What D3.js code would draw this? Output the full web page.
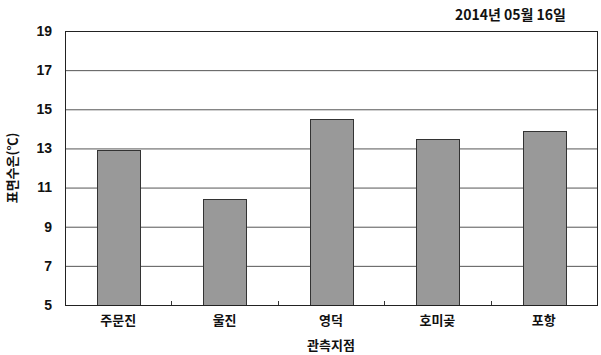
<!DOCTYPE html>
<html>
<head>
<meta charset="utf-8">
<script src="https://cdn.jsdelivr.net/npm/d3@7"></script>
<style>
body { margin: 0; background: #fff; }
text { font-family: "Noto Sans CJK KR", "Liberation Sans", sans-serif; font-weight: bold; fill: #111; }
</style>
</head>
<body>
<div id="chart"></div>
<script>
const stations = ["주문진", "울진", "영덕", "호미곶", "포항"];
const temps = [12.9, 10.4, 14.5, 13.5, 13.9];
const yTicks = [5, 7, 9, 11, 13, 15, 17, 19];

const width = 601, height = 355;
const margin = { top: 31, right: 4, bottom: 50, left: 65 };

const svg = d3.select("#chart")
    .append("svg")
    .attr("width", width)
    .attr("height", height);

const x = d3.scaleBand()
    .domain(stations)
    .range([margin.left, width - margin.right])
    .paddingInner(0.6)
    .paddingOuter(0.3);

const y = d3.scaleLinear()
    .domain([5, 19])
    .range([height - margin.bottom, margin.top]);

// gridlines
svg.append("g")
    .selectAll("line")
    .data(yTicks)
    .enter()
    .append("line")
    .attr("x1", margin.left)
    .attr("x2", width - margin.right)
    .attr("y1", d => y(d) + 0.5)
    .attr("y2", d => y(d) + 0.5)
    .attr("stroke", "#555")
    .attr("stroke-width", 1);

// bars
svg.append("g")
    .selectAll("rect")
    .data(stations)
    .enter()
    .append("rect")
    .attr("x", d => Math.round(x(d)) + 0.5)
    .attr("y", (d, i) => Math.round(y(temps[i])) + 0.5)
    .attr("width", Math.round(x.bandwidth()))
    .attr("height", (d, i) => Math.round(y(5)) - Math.round(y(temps[i])))
    .attr("fill", "#999999")
    .attr("stroke", "#333")
    .attr("stroke-width", 1);

// plot frame
svg.append("rect")
    .attr("x", margin.left + 0.5)
    .attr("y", margin.top + 0.5)
    .attr("width", width - margin.right - margin.left)
    .attr("height", height - margin.bottom - margin.top)
    .attr("fill", "none")
    .attr("stroke", "#222");

// category boundary ticks on x axis
const bounds = d3.range(1, stations.length).map(i => margin.left + i * (width - margin.right - margin.left) / stations.length);
svg.append("g")
    .selectAll("line")
    .data(bounds)
    .enter()
    .append("line")
    .attr("x1", d => Math.round(d) + 0.5)
    .attr("x2", d => Math.round(d) + 0.5)
    .attr("y1", y(5))
    .attr("y2", y(5) - 4)
    .attr("stroke", "#333");

// y axis labels
svg.append("g")
    .selectAll("text")
    .data(yTicks)
    .enter()
    .append("text")
    .attr("x", 52)
    .attr("y", d => y(d))
    .attr("dy", "0.35em")
    .attr("text-anchor", "end")
    .style("font-size", "14px")
    .style("font-family", "'Liberation Sans', sans-serif")
    .text(d => d);

// x axis labels
svg.append("g")
    .selectAll("text")
    .data(stations)
    .enter()
    .append("text")
    .attr("x", d => x(d) + x.bandwidth() / 2)
    .attr("y", 325)
    .attr("text-anchor", "middle")
    .style("font-size", "13px")
    .text(d => d);

svg.append("text")
    .attr("x", (margin.left + width - margin.right) / 2)
    .attr("y", 350)
    .attr("text-anchor", "middle")
    .style("font-size", "13px")
    .text("관측지점");

svg.append("text")
    .attr("transform", "translate(17," + ((margin.top + height - margin.bottom) / 2) + ") rotate(-90)")
    .attr("text-anchor", "middle")
    .style("font-size", "13px")
    .text("표면수온(℃)");

svg.append("text")
    .attr("x", 566)
    .attr("y", 20)
    .attr("text-anchor", "end")
    .style("font-size", "14px")
    .text("2014년 05월 16일");
</script>
</body>
</html>
